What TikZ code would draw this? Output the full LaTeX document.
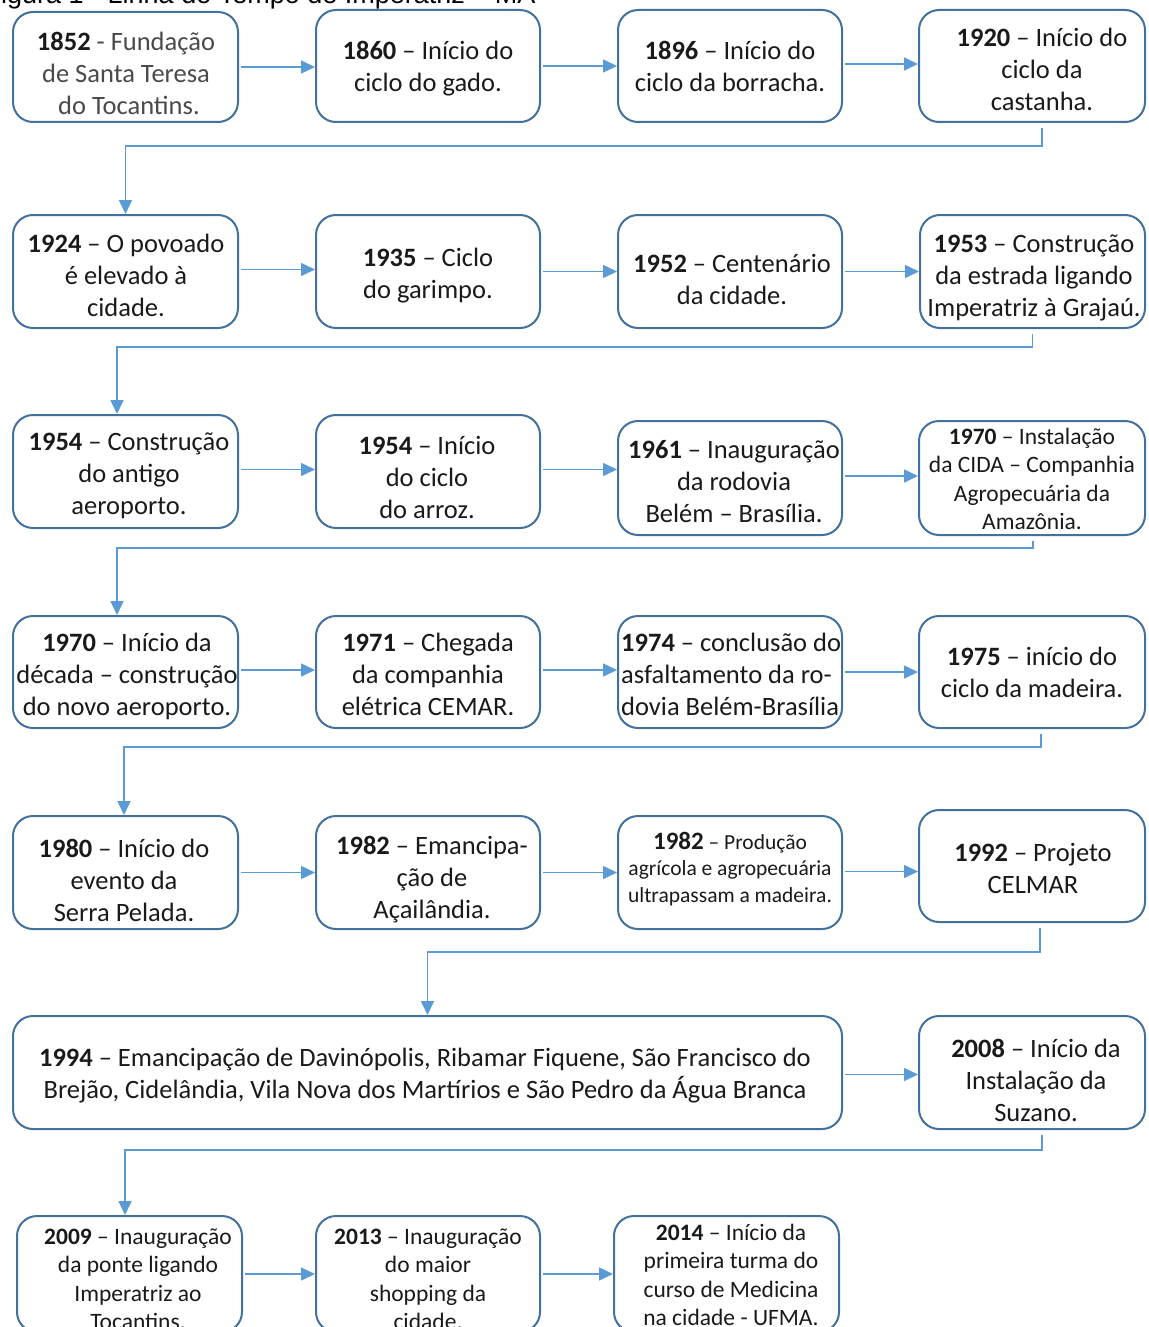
\documentclass[tikz,border=0pt]{standalone}
\usepackage{fontspec}
\setmainfont{Carlito}
\newfontfamily\capfont{Liberation Sans}
\usetikzlibrary{arrows.meta,fit}
\definecolor{boxc}{HTML}{41719C}
\definecolor{arrc}{HTML}{5B9BD5}
\definecolor{txtc}{HTML}{1A1A1A}
\definecolor{lightc}{HTML}{4A4A4A}
\tikzset{
  box/.style={draw=boxc, line width=2pt, rounded corners=20pt, inner sep=0pt},
  txt/.style={inner sep=0pt, align=center, text=txtc, font=\fontsize{26.5}{32}\selectfont},
  stxt/.style={inner sep=0pt, align=center, text=txtc, font=\fontsize{23.5}{28.5}\selectfont},
  xtxt/.style={inner sep=0pt, align=center, text=txtc, font=\fontsize{21.5}{26.5}\selectfont},
  arr/.style={draw=arrc, line width=1.5pt, -{Triangle[length=14pt,width=13pt]}},
  harr/.style={arr, shorten <=2pt},
  varr/.style={arr, shorten <=5pt}
}
\begin{document}
\begin{tikzpicture}[x=1pt,y=-1pt]
\useasboundingbox (0,0) rectangle (1148,1327);
\fill[white] (0,0) rectangle (1148,1327);

% caption (cut by the top edge)
\node[anchor=base west, inner sep=0pt, font=\capfont\fontsize{27}{30}\selectfont] (cap) at (1,4) {igura 1 - Linha do Tempo de Imperatriz – MA};

% row 1
\node[box, fit={(13,12) (238,122)}] (b1) {};
\node[box, fit={(316,10) (540,122)}] (b2) {};
\node[box, fit={(618,10) (842,122)}] (b3) {};
\node[box, fit={(919,10) (1145,122)}] (b4) {};
% row 2
\node[box, fit={(13,215) (238,328)}] (b5) {};
\node[box, fit={(316,215) (540,328)}] (b6) {};
\node[box, fit={(618,215) (842,328)}] (b7) {};
\node[box, fit={(920,215) (1145,328)}] (b8) {};
% row 3
\node[box, fit={(13,415) (238,528)}] (b9) {};
\node[box, fit={(316,415) (540,528)}] (b10) {};
\node[box, fit={(618,421) (842,535)}] (b11) {};
\node[box, fit={(919,421) (1145,535)}] (b12) {};
% row 4
\node[box, fit={(13,616) (238,728)}] (b13) {};
\node[box, fit={(316,616) (540,728)}] (b14) {};
\node[box, fit={(618,616) (842,728)}] (b15) {};
\node[box, fit={(919,616) (1145,728)}] (b16) {};
% row 5
\node[box, fit={(13,816) (238,929)}] (b17) {};
\node[box, fit={(316,816) (540,929)}] (b18) {};
\node[box, fit={(618,816) (842,929)}] (b19) {};
\node[box, fit={(919,810) (1145,922)}] (b20) {};
% row 6
\node[box, fit={(13,1016) (842,1129)}] (b21) {};
\node[box, fit={(919,1016) (1145,1129)}] (b22) {};
% row 7
\node[box, fit={(17,1216) (242,1332)}] (b23) {};
\node[box, fit={(316,1216) (540,1332)}] (b24) {};
\node[box, fit={(614,1216) (839,1332)}] (b25) {};

% texts
\node[txt] (t1) at (126,73) {\textbf{1852} \textcolor{lightc}{- Fundação}\\\textcolor{lightc}{de Santa Teresa}\\\textcolor{lightc}{\ do Tocantins.}};
\node[txt] (t2) at (428,69) {\textbf{1860} – Início do\\ciclo do gado.};
\node[txt] (t3) at (730,66) {\textbf{1896} – Início do\\ciclo da borracha.};
\node[txt] (t4) at (1042,69) {\textbf{1920} – Início do\\ciclo da\\castanha.};

\node[txt] (t5) at (126,275) {\textbf{1924} – O povoado\\é elevado à\\cidade.};
\node[txt] (t6) at (428,276) {\textbf{1935} – Ciclo\\do garimpo.};
\node[txt] (t7) at (732,279) {\textbf{1952} – Centenário\\da cidade.};
\node[txt] (t8) at (1034,278) {\textbf{1953} – Construção\\da estrada ligando\\Imperatriz à Grajaú.};

\node[txt] (t9) at (129,476) {\textbf{1954} – Construção\\do antigo\\aeroporto.};
\node[txt] (t10) at (427,477) {\textbf{1954} – Início\\do ciclo\\do arroz.};
\node[txt] (t11) at (734,482) {\textbf{1961} – Inauguração\\da rodovia\\Belém – Brasília.};
\node[stxt] (t12) at (1032,479) {\textbf{1970} – Instalação\\da CIDA – Companhia\\Agropecuária da\\Amazônia.};

\node[txt] (t13) at (127,676) {\textbf{1970} – Início da\\década – construção\\do novo aeroporto.};
\node[txt] (t14) at (428,674) {\textbf{1971} – Chegada\\da companhia\\elétrica CEMAR.};
\node[txt, align=left, anchor=west] (t15) at (621,674) {\textbf{1974} – conclusão do\\asfaltamento da ro-\\dovia Belém-Brasília};
\node[txt] (t16) at (1032,672) {\textbf{1975} – início do\\ciclo da madeira.};

\node[txt] (t17) at (124,880) {\textbf{1980} – Início do\\evento da\\Serra Pelada.};
\node[txt] (t18) at (432,880) {\textbf{1982} – Emancipa-\\ção de\\Açailândia.};
\node[xtxt] (t19) at (730,869) {{\fontsize{25}{26.5}\selectfont\bfseries 1982} – Produção\\agrícola e agropecuária\\ultrapassam a madeira.};
\node[txt] (t20) at (1033,868) {\textbf{1992} – Projeto\\CELMAR};

\node[txt] (t21) at (425,1076) {\textbf{1994} – Emancipação de Davinópolis, Ribamar Fiquene, São Francisco do\\Brejão, Cidelândia, Vila Nova dos Martírios e São Pedro da Água Branca};
\node[txt] (t22) at (1036,1080) {\textbf{2008} – Início da\\Instalação da\\Suzano.};

\node[stxt] (t23) at (138,1279) {\textbf{2009} – Inauguração\\da ponte ligando\\Imperatriz ao\\Tocantins.};
\node[stxt] (t24) at (428,1279) {\textbf{2013} – Inauguração\\do maior\\shopping da\\cidade.};
\node[stxt] (t25) at (731,1275) {\textbf{2014} – Início da\\primeira turma do\\curso de Medicina\\na cidade - UFMA.};

% horizontal connectors
\draw[harr] (b1.east) -- (b1.east -| b2.west);
\draw[harr] (b2.east) -- (b2.east -| b3.west);
\draw[harr] ([yshift=2pt]b3.east) -- ([yshift=2pt]b3.east -| b4.west);
\draw[harr] ([yshift=2pt]b5.east) -- ([yshift=2pt]b5.east -| b6.west);
\draw[harr] (b6.east) -- (b6.east -| b7.west);
\draw[harr] (b7.east) -- (b7.east -| b8.west);
\draw[harr] ([yshift=2pt]b9.east) -- ([yshift=2pt]b9.east -| b10.west);
\draw[harr] ([yshift=2pt]b10.east) -- ([yshift=2pt]b10.east -| b11.west);
\draw[harr] ([yshift=2pt]b11.east) -- ([yshift=2pt]b11.east -| b12.west);
\draw[harr] ([yshift=2pt]b13.east) -- ([yshift=2pt]b13.east -| b14.west);
\draw[harr] ([yshift=2pt]b14.east) -- ([yshift=2pt]b14.east -| b15.west);
\draw[harr] (b15.east) -- (b15.east -| b16.west);
\draw[harr] (b17.east) -- (b17.east -| b18.west);
\draw[harr] (b18.east) -- (b18.east -| b19.west);
\draw[harr] ([yshift=1pt]b19.east) -- ([yshift=1pt]b19.east -| b20.west);
\draw[harr] ([yshift=-2pt]b21.east) -- ([yshift=-2pt]b21.east -| b22.west);
\draw[harr] (b23.east) -- (b23.east -| b24.west);
\draw[harr] (b24.east) -- (b24.east -| b25.west);

% row-to-row connectors
\draw[varr] ([xshift=10pt]b4.south) -- ([xshift=10pt]b4.south |- 0,146) -| (b5.north);
\draw[varr] (b8.south) -- (b8.south |- 0,347) -| ([xshift=-8.5pt]b9.north);
\draw[varr] ([xshift=1pt]b12.south) -- ([xshift=1pt]b12.south |- 0,548) -| ([xshift=-8.5pt]b13.north);
\draw[varr] ([xshift=9pt]b16.south) -- ([xshift=9pt]b16.south |- 0,747) -| ([xshift=-1.5pt]b17.north);
\draw[varr] ([xshift=8pt]b20.south) -- ([xshift=8pt]b20.south |- 0,952) -| (b21.north);
\draw[varr] ([xshift=10pt]b22.south) -- ([xshift=10pt]b22.south |- 0,1150) -| ([xshift=-4.5pt]b23.north);
\end{tikzpicture}
\end{document}
